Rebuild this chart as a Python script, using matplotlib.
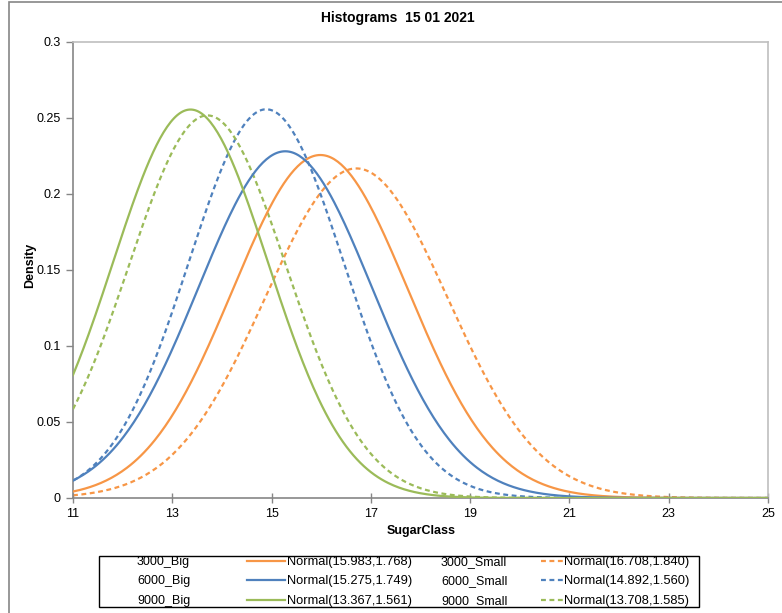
import numpy as np
import matplotlib
matplotlib.use("Agg")
import matplotlib.pyplot as plt
from matplotlib.lines import Line2D
from matplotlib.patches import Rectangle

plt.rcParams['font.family'] = ['Liberation Sans', 'DejaVu Sans']

# fitted normal distributions, as written in the legend
big_names = ["3000_Big", "6000_Big", "9000_Big"]
big_means = [15.983, 15.275, 13.367]
big_sds = [1.768, 1.749, 1.561]

small_names = ["3000_Small", "6000_Small", "9000_Small"]
small_means = [16.708, 14.892, 13.708]
small_sds = [1.840, 1.560, 1.585]

colors = ["#F79646", "#4F81BD", "#9BBB59"]
x_ticks = [11, 13, 15, 17, 19, 21, 23, 25]
y_ticks = [0, 0.05, 0.1, 0.15, 0.2, 0.25, 0.3]
y_labels = ["0", "0.05", "0.1", "0.15", "0.2", "0.25", "0.3"]


def normal_pdf(x, mu, sd):
    return np.exp(-0.5 * ((x - mu) / sd) ** 2) / (sd * np.sqrt(2 * np.pi))


W, H = 782, 613
fig = plt.figure(figsize=(W / 100, H / 100), dpi=100)


def fx(px):
    return px / W


def fy(py):
    return 1 - py / H


ax = fig.add_axes([fx(73), fy(498), fx(768) - fx(73), fy(42) - fy(498)])

x = np.linspace(11, 25, 400)
dash = (0, (2.2, 1.6))
for i in range(3):
    ax.plot(x, normal_pdf(x, small_means[i], small_sds[i]), color=colors[i],
            lw=1.6, linestyle=dash, zorder=2 + i)
for i in range(3):
    ax.plot(x, normal_pdf(x, big_means[i], big_sds[i]), color=colors[i],
            lw=1.6, zorder=5 + i)

ax.set_xlim(11, 25)
ax.set_ylim(0, 0.3)
ax.set_xticks(x_ticks)
ax.set_yticks(y_ticks)
ax.set_yticklabels(y_labels)
ax.tick_params(axis='x', direction='inout', length=7, width=1, color='#868686',
               labelsize=9, pad=4)
ax.tick_params(axis='y', direction='out', length=5, width=1, color='#868686',
               labelsize=9, pad=4)
for s in ax.spines.values():
    s.set_color('#868686')
    s.set_linewidth(1.2)
for s in ['top', 'right']:
    ax.spines[s].set_color('#BFBFBF')

ax.set_xlabel("SugarClass", fontsize=9, fontweight='bold')
ax.set_ylabel("Density", fontsize=9, fontweight='bold')
ax.xaxis.set_label_coords(0.501, -0.059)
ax.yaxis.set_label_coords(-0.053, 0.511)

fig.text(fx(398), fy(18), "Histograms  15 01 2021", fontsize=10,
         fontweight='bold', ha='center', va='center')

# outer chart frame
fig.add_artist(Rectangle((fx(9), fy(640)), fx(800), fy(2) - fy(640),
                         transform=fig.transFigure, fill=False,
                         edgecolor='#868686', lw=1.2))

# legend table
fig.add_artist(Rectangle((fx(99), fy(607)), fx(699) - fx(99), fy(556) - fy(607),
                         transform=fig.transFigure, fill=False,
                         edgecolor='black', lw=1.0))
rows_y = [565, 584, 604]
for i in range(3):
    yy = fy(rows_y[i])
    ly = fy(rows_y[i] - 4)
    fig.text(fx(137), yy, big_names[i], fontsize=9, va='baseline')
    fig.add_artist(Line2D([fx(247), fx(285)], [ly, ly], color=colors[i], lw=1.6,
                          transform=fig.transFigure))
    fig.text(fx(287), yy, f"Normal({big_means[i]:.3f},{big_sds[i]:.3f})",
             fontsize=9.3, va='baseline')
    fig.text(fx(441), yy, small_names[i], fontsize=9, va='baseline')
    fig.add_artist(Line2D([fx(541), fx(563)], [ly, ly], color=colors[i], lw=1.6,
                          linestyle=dash, transform=fig.transFigure))
    fig.text(fx(564), yy, f"Normal({small_means[i]:.3f},{small_sds[i]:.3f})",
             fontsize=9.3, va='baseline')

fig.savefig("out.png", dpi=100)
